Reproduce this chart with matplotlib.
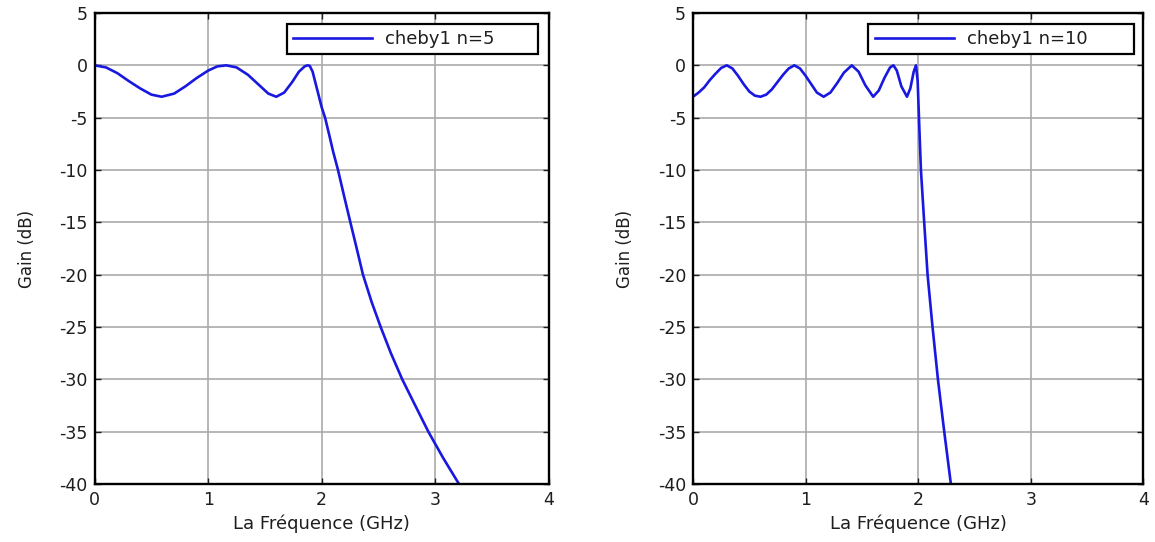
import matplotlib
matplotlib.use('Agg')
import matplotlib.pyplot as plt

# ==================== données ====================
# cheby1 n=5
freq_n5 = [0.0, 0.1, 0.2, 0.3, 0.4, 0.5, 0.59, 0.7, 0.8, 0.9, 1.0, 1.08,
           1.16, 1.25, 1.35, 1.45, 1.53, 1.6, 1.67, 1.74, 1.8, 1.85, 1.875,
           1.895, 1.92, 1.96, 2.0, 2.03, 2.07, 2.1, 2.144, 2.2, 2.253, 2.3,
           2.364, 2.44, 2.52, 2.61, 2.71, 2.82, 2.94, 3.07, 3.21]
gain_n5 = [0.0, -0.2, -0.75, -1.5, -2.2, -2.8, -3.0, -2.7, -2.0, -1.2, -0.5, -0.1,
           0.0, -0.2, -0.9, -1.9, -2.7, -3.0, -2.6, -1.6, -0.6, -0.1, 0.0,
           -0.05, -0.6, -2.3, -4.0, -5.0, -6.8, -8.2, -10.0, -12.6, -15.0, -17.1,
           -20.0, -22.6, -25.0, -27.5, -30.0, -32.4, -35.0, -37.5, -40.0]

# cheby1 n=10
freq_n10 = [0.0, 0.05, 0.1, 0.15, 0.2, 0.25, 0.3, 0.35, 0.4, 0.45, 0.5, 0.55,
            0.6, 0.65, 0.7, 0.75, 0.8, 0.85, 0.9, 0.95, 1.0, 1.05, 1.1, 1.16,
            1.22, 1.28, 1.34, 1.41, 1.47, 1.53, 1.6, 1.65, 1.7, 1.75, 1.78,
            1.81, 1.85, 1.9, 1.93, 1.96, 1.98, 1.995, 2.01, 2.024, 2.053,
            2.083, 2.127, 2.175, 2.231, 2.29]
gain_n10 = [-3.0, -2.6, -2.1, -1.4, -0.8, -0.25, 0.0, -0.3, -1.0, -1.8, -2.5, -2.9,
            -3.0, -2.8, -2.3, -1.6, -0.9, -0.3, 0.0, -0.3, -1.0, -1.8, -2.6, -3.0,
            -2.6, -1.7, -0.7, 0.0, -0.6, -1.9, -3.0, -2.4, -1.2, -0.2, 0.0,
            -0.5, -2.0, -3.0, -2.2, -0.6, 0.0, -1.5, -6.0, -10.0, -15.0,
            -20.0, -25.0, -30.0, -35.0, -40.0]

series = [(freq_n5, gain_n5, 'cheby1 n=5'),
          (freq_n10, gain_n10, 'cheby1 n=10')]
x_ticks = [0, 1, 2, 3, 4]
y_ticks = [5, 0, -5, -10, -15, -20, -25, -30, -35, -40]
# =====================================================================

plt.rcParams['font.family'] = ['DejaVu Sans']
plt.rcParams['axes.unicode_minus'] = False
text_col = '#1e1e1e'

fig = plt.figure(figsize=(11.55, 5.42), dpi=100)
positions = [[0.082, 0.107, 0.393, 0.869],
             [0.600, 0.107, 0.390, 0.869]]
# cadre de la légende (coordonnées axes)
leg_boxes = [(0.423, 0.909, 0.553, 0.068),
             (0.389, 0.907, 0.591, 0.070)]

for pos, box, (fx, gy, lab) in zip(positions, leg_boxes, series):
    ax = fig.add_axes(pos)
    ax.plot(fx, gy, color='#1818e0', linewidth=1.9, label=lab)
    ax.set_xlim(0, 4)
    ax.set_ylim(-40, 5)
    ax.set_xticks(x_ticks)
    ax.set_yticks(y_ticks)
    ax.grid(True, color='#aaaaaa', linestyle='-', linewidth=1.2)
    ax.set_axisbelow(True)
    ax.tick_params(direction='in', top=True, right=True, length=4,
                   labelsize=12.5, colors=text_col, width=1.0, pad=5)
    for sp in ax.spines.values():
        sp.set_linewidth(1.7)
        sp.set_color('black')
    ax.set_xlabel('La Fréquence (GHz)', fontsize=13, color=text_col, labelpad=4)
    ax.set_ylabel('Gain (dB)', fontsize=12, color=text_col, labelpad=17)
    leg = ax.legend(loc='upper left', bbox_to_anchor=box, mode='expand',
                    fontsize=13, handlelength=4.4, fancybox=False,
                    borderaxespad=0, borderpad=0.35, handletextpad=0.7,
                    framealpha=1)
    leg.get_frame().set_edgecolor('black')
    leg.get_frame().set_linewidth(1.6)
    for t in leg.get_texts():
        t.set_color(text_col)

fig.savefig('out.png', dpi=100)
